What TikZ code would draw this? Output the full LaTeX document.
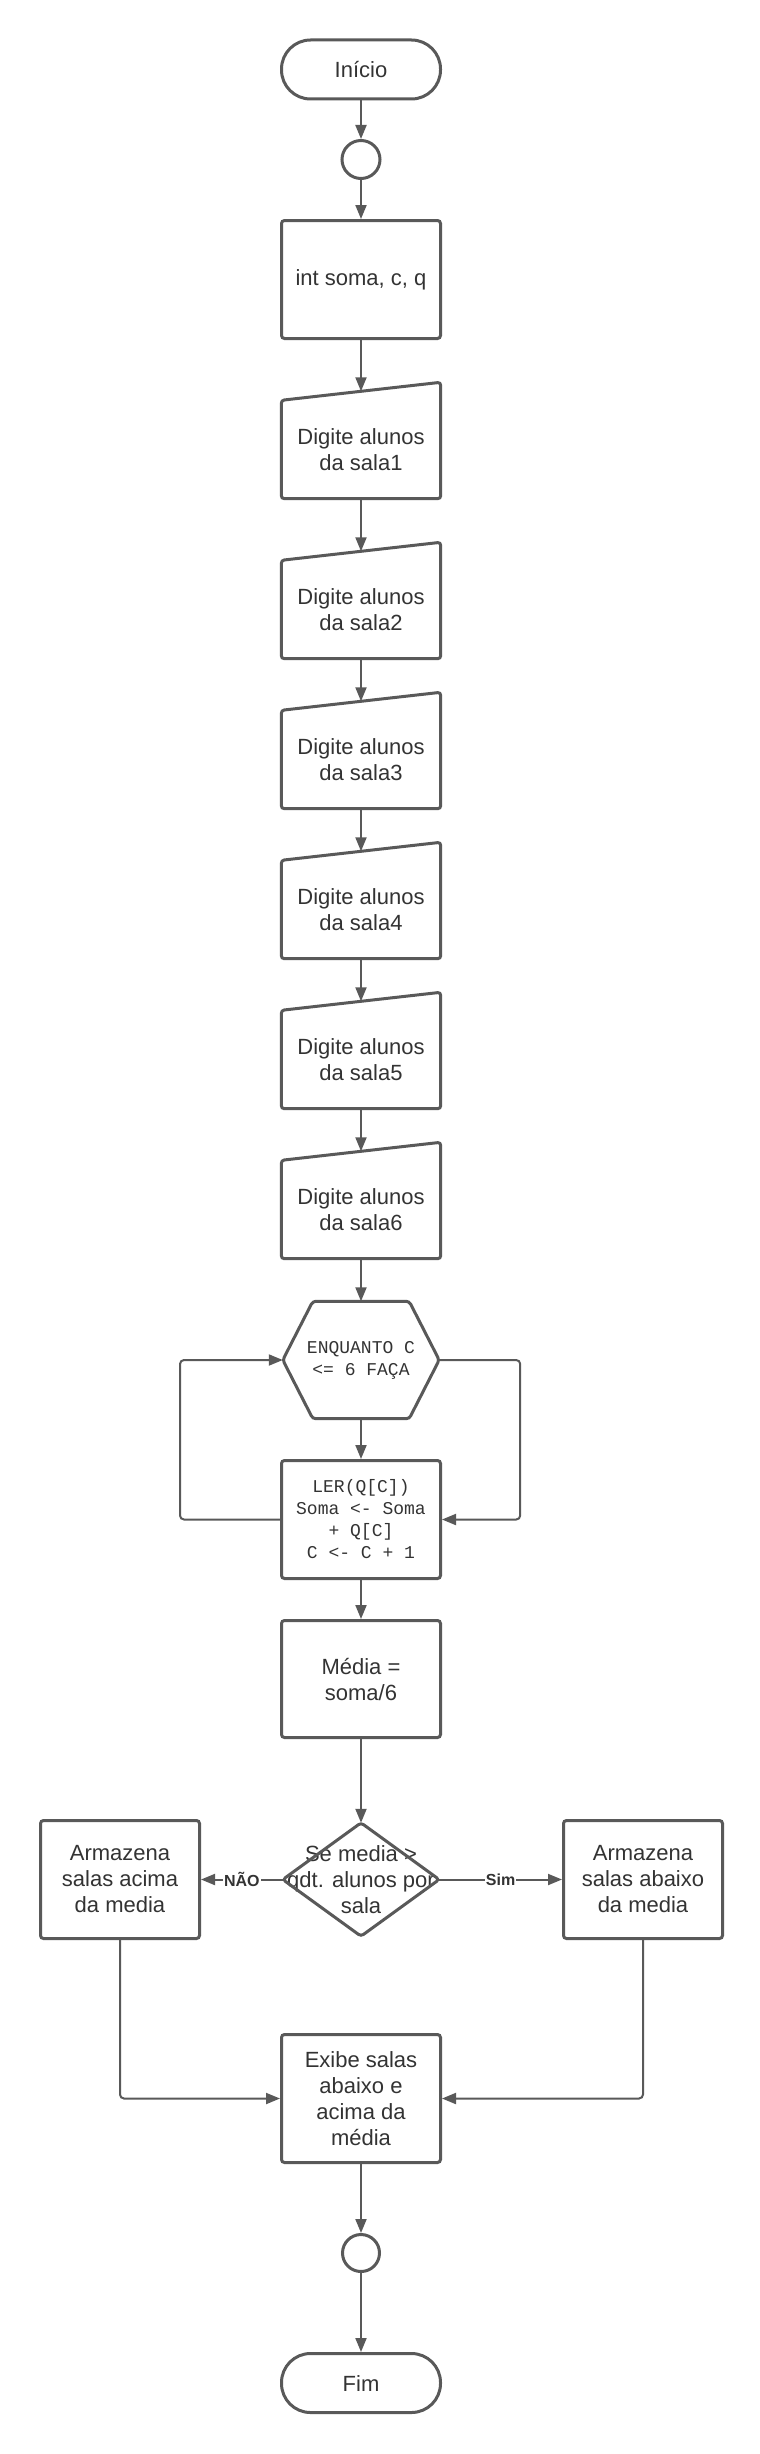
\documentclass[tikz,border=0pt]{standalone}
\usepackage{fontspec}
\setmainfont{Liberation Sans}
\setmonofont{Liberation Mono}
\usetikzlibrary{arrows.meta}

\definecolor{linha}{HTML}{595959}
\definecolor{texto}{HTML}{333333}

\tikzset{
  base/.style={inner sep=0pt, align=center, text=texto,
    font=\fontsize{22}{26}\selectfont},
  terminal/.style={base, draw=linha, line width=3pt, rounded corners=29pt,
    minimum width=159pt, minimum height=59pt},
  juncao/.style={base, draw=linha, line width=3pt, circle, minimum size=38pt},
  processo/.style={base, draw=linha, line width=3pt, rounded corners=3pt,
    minimum width=159pt, minimum height=118pt},
  entrada/.style={base, minimum width=159pt, minimum height=98pt},
  laco/.style={base, minimum width=156pt, minimum height=117pt,
    font=\ttfamily\fontsize{18}{22}\selectfont},
  decisao/.style={base, minimum width=156pt, minimum height=113pt},
  contorno/.style={draw=linha, line width=3pt, rounded corners=3pt},
  seta/.style={draw=linha, line width=2pt, -{Triangle[length=14pt,width=11pt]}},
  rotulo/.style={fill=white, inner sep=1pt, text=texto,
    font=\bfseries\fontsize{16}{18}\selectfont}
}

\begin{document}
\begin{tikzpicture}[x=1pt, y=-1pt]
  \useasboundingbox (0,0) rectangle (760,2454);

  % Coluna central
  \def\cx{361}

  % Inicio e declaracao
  \node[terminal] (inicio) at (\cx,69.5) {Início};
  \node[juncao] (jun1) at (\cx,159.5) {};
  \node[processo] (decl) at (\cx,279.5) {int soma, c, q};

  % Entradas das salas (topo inclinado)
  \foreach \i/\y in {1/449.5, 2/609.5, 3/759.5, 4/909.5, 5/1059.5, 6/1209.5} {
    \node[entrada] (sala\i) at (\cx,\y) {Digite alunos\\da sala\i};
    \draw[contorno] (sala\i.north west) -- ([yshift=18pt]sala\i.north east)
      -- (sala\i.south east) -- (sala\i.south west) -- cycle;
  }

  % Laco
  \node[laco] (enq) at (\cx,1360) {ENQUANTO C\\<= 6 FAÇA};
  \draw[contorno] (enq.west) -- ([xshift=30pt]enq.north west)
    -- ([xshift=-30pt]enq.north east) -- (enq.east)
    -- ([xshift=-30pt]enq.south east) -- ([xshift=30pt]enq.south west) -- cycle;
  \node[processo, font=\ttfamily\fontsize{18}{22}\selectfont] (ler) at (\cx,1519.5)
    {LER(Q[C])\\Soma <- Soma\\+ Q[C]\\C <- C + 1};

  % Media e decisao
  \node[processo, minimum height=117pt] (media) at (\cx,1679) {Média =\\soma/6};
  \node[decisao] (dec) at (\cx,1879.5) {Se media >\\qdt. alunos por\\sala};
  \draw[contorno] (dec.north) -- (dec.east) -- (dec.south) -- (dec.west) -- cycle;
  \node[processo] (acima) at (120,1879.5)
    {Armazena\\salas acima\\da media};
  \node[processo] (abaixo) at (643,1879.5)
    {Armazena\\salas abaixo\\da media};

  % Saida e fim
  \node[processo, minimum height=128pt] (exibe) at (\cx,2098.5)
    {Exibe salas\\abaixo e\\acima da\\média};
  \node[juncao, minimum size=37pt] (jun2) at (\cx,2253) {};
  \node[terminal] (fim) at (\cx,2383) {Fim};

  % Conectores
  \draw[seta] (inicio) -- (jun1);
  \draw[seta] (jun1) -- (decl);
  \draw[seta] (decl) -- ([yshift=9pt]sala1.north);
  \foreach \i/\j in {1/2, 2/3, 3/4, 4/5, 5/6}
    \draw[seta] (sala\i) -- ([yshift=9pt]sala\j.north);
  \draw[seta] (sala6) -- (enq);
  \draw[seta] (enq) -- (ler);
  \draw[seta, rounded corners=4pt] (ler.west) -- ++(-100,0) |- (enq.west);
  \draw[seta, rounded corners=4pt] (enq.east) -- ++(81,0) |- (ler.east);
  \draw[seta] (ler) -- (media);
  \draw[seta] (media) -- (dec.north);
  \draw[seta] (dec.west) -- node[rotulo] {NÃO} (acima.east);
  \draw[seta] (dec.east) -- node[rotulo] {Sim} (abaixo.west);
  \draw[seta, rounded corners=4pt] (acima.south) |- (exibe.west);
  \draw[seta, rounded corners=4pt] (abaixo.south) |- (exibe.east);
  \draw[seta] (exibe) -- (jun2);
  \draw[seta] (jun2) -- (fim);
\end{tikzpicture}
\end{document}
